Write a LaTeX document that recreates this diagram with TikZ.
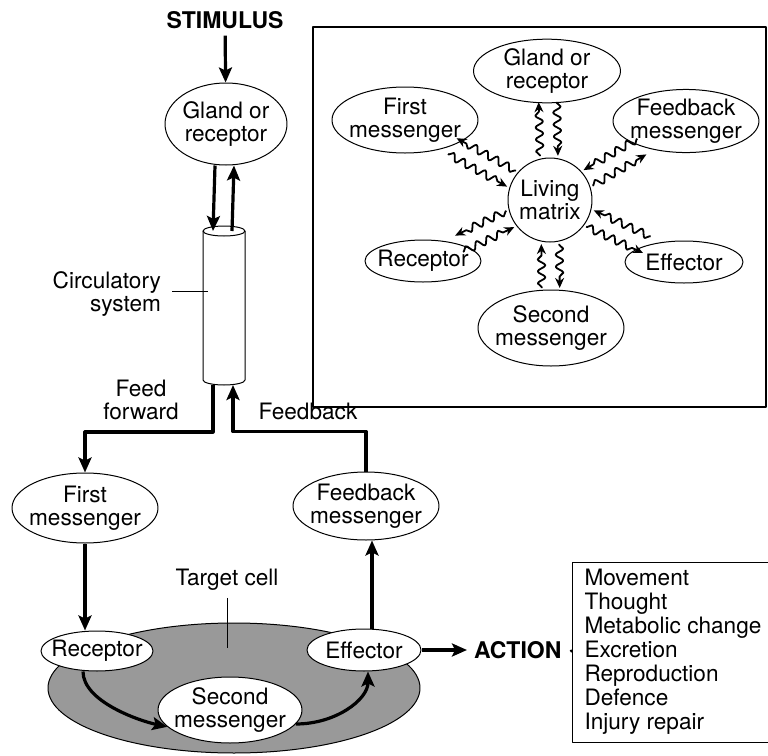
\documentclass[tikz,border=0pt]{standalone}
\usepackage{fontspec}
\setmainfont{TeX Gyre Heros}
\usetikzlibrary{shapes.geometric,arrows.meta,decorations.pathmorphing,calc}
\begin{document}
\begin{tikzpicture}[x=0.5pt,y=-0.5pt,line join=round,font=\fontsize{11.3}{11.6}\selectfont,
	>={Stealth[length=7.5pt,width=6.5pt,inset=1.5pt]},
	el/.style={ellipse,draw,line width=0.5pt,fill=white,align=center,inner xsep=-5pt,inner ysep=0pt},
	big/.style={line width=1.6pt},
	bold/.style={font=\fontsize{11.5}{12}\selectfont\bfseries},
	wave/.style={line width=0.9pt,-{Stealth[length=5pt,width=4.5pt]},decorate,
		decoration={snake,amplitude=1.9pt,segment length=6pt,pre length=0.5pt,post length=4.5pt}}]
	\useasboundingbox (0,0) rectangle (768,756);
	\node[bold] (stim) at (225,20) {STIMULUS};
	\node[el,minimum width=61pt,minimum height=41pt] (gland) at (226,124) {Gland or\\receptor};
	\draw[big,->] (stim) -- (gland);
	\coordinate (ctop) at (224,231);
	\coordinate (cbot) at (224,385);
	\draw[line width=0.5pt,fill=white] (203,231) -- (203,380) arc[start angle=180,end angle=0,x radius=21,y radius=5] -- (245,231);
	\draw[line width=0.5pt] (ctop) ellipse[x radius=21,y radius=5];
	\draw[big,->] ([xshift=-5.5pt]gland.south) -- ([xshift=-5.5pt]ctop);
	\draw[big,->] ([xshift=4pt]ctop) -- ([xshift=4pt]gland.south);
	\node[anchor=east,align=right] (circ) at (168,294) {Circulatory\\system};
	\draw[line width=0.4pt] ([shift={(2pt,1.5pt)}]circ.east) -- ++(36,0);
	\node[align=center] (ffwd) at (141,400) {Feed\\forward};
	\node (fblab) at (308,411) {Feedback};
	\node[el,minimum width=73pt,minimum height=35pt] (first) at (85,508) {First\\messenger};
	\node[el,minimum width=73pt,minimum height=34pt] (feedback) at (366,506) {Feedback\\messenger};
	\draw[big,->] ([xshift=-5.5pt]cbot) -- ++(0,47) -| (first.north);
	\draw[big,->] (feedback.north) -- ++(0,-40) -| ([xshift=4.5pt]cbot);
	\node[ellipse,draw,line width=0.5pt,fill=black!40,minimum width=186pt,minimum height=65pt] (cell) at (234,688) {};
	\node (tc) at (227,580) {Target cell};
	\draw[line width=0.4pt] (tc.south) -- ++(0,50);
	\node[el,minimum width=56pt,minimum height=20pt] (receptor) at (97,651) {Receptor};
	\node[el,minimum width=57pt,minimum height=21pt] (effector) at (364,650) {Effector};
	\node[el,minimum width=72pt,minimum height=33pt] (second) at (230,710) {Second\\messenger};
	\draw[big,->] (first.south) -- (first.south |- receptor.north);
	\draw[big,->] ([xshift=4pt]effector.north) -- ([xshift=4pt]effector.north |- feedback.south);
	\draw[big,->] ([xshift=-7pt]receptor.south) .. controls +(0,30) and +(-28,-6) .. (second.195);
	\draw[big,->] (second.-12) .. controls +(40,0) and +(0,28) .. ([xshift=2pt]effector.south);
	\node[bold,anchor=west] (action) at (467,650) {ACTION};
	\node[draw,line width=0.5pt,anchor=west,align=left,inner xsep=6pt,minimum height=90pt,
		font=\fontsize{11.3}{12}\selectfont] (list) at (572,652) {Movement\\Thought\\Metabolic change\\Excretion\\Reproduction\\Defence\\Injury repair};
	\draw[big,->] (effector.east) -- (action.west);
	\draw[line width=1pt] ([xshift=1pt]action.east) -- (list.west);
	\draw[line width=0.6pt] (313,27) rectangle (766,407);
	\node[circle,draw,line width=0.5pt,minimum size=42pt,inner sep=0pt,align=center] (lm) at (550,200) {Living\\matrix};
	\node[el,minimum width=73.5pt,minimum height=29pt] (igland) at (547,71) {Gland or\\receptor};
	\node[el,minimum width=73pt,minimum height=33pt] (ifirst) at (405,120) {First\\messenger};
	\node[el,minimum width=73pt,minimum height=31pt] (ifeed) at (686,121) {Feedback\\messenger};
	\node[el,minimum width=58pt,minimum height=21pt] (irec) at (423,261) {Receptor};
	\node[el,minimum width=59pt,minimum height=21pt] (ieff) at (684,262) {Effector};
	\node[el,minimum width=73pt,minimum height=38pt] (isec) at (551,328) {Second\\messenger};
	\foreach \s/\db/\a in {igland/15.5pt/90,ifirst/27pt/-90,ifeed/25.5pt/-90,irec/20pt/-90,ieff/20.5pt/-90,isec/20pt/90}{
		\draw[wave] ($(lm)!22pt!(\s)!4.5pt!\a:(\s)$) -- ($(\s)!\db!(lm)!4.5pt!-\a:(lm)$);
		\draw[wave] ($(\s)!\db!(lm)!4.5pt!\a:(lm)$) -- ($(lm)!22pt!(\s)!4.5pt!-\a:(\s)$);
	}
\end{tikzpicture}
\end{document}
